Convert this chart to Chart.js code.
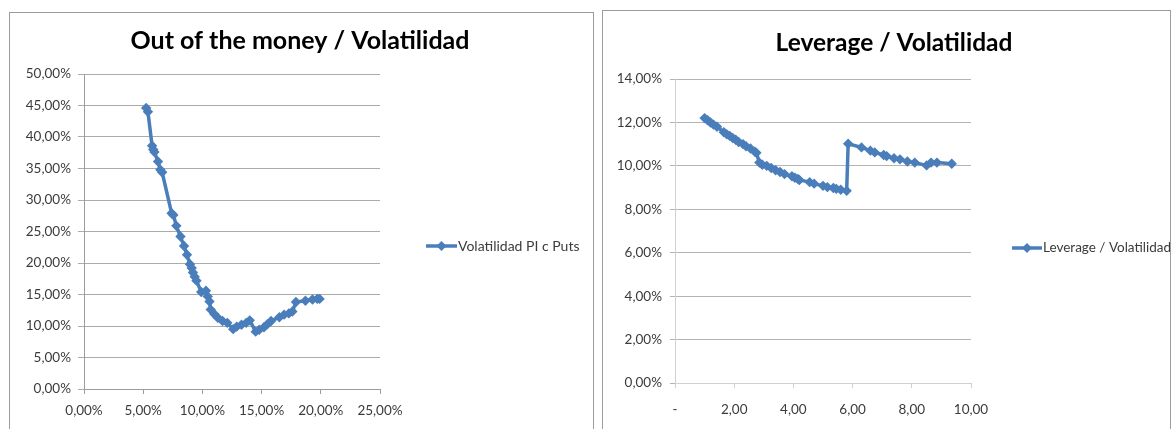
<!DOCTYPE html>
<html>
<head>
<meta charset="utf-8">
<title>Volatilidad</title>
<script src="https://cdn.jsdelivr.net/npm/chart.js@4.4.1/dist/chart.umd.min.js"></script>
<style>
  html, body { margin: 0; padding: 0; background: #fff; width: 1172px; height: 429px; overflow: hidden; }
  .frame { position: absolute; box-sizing: border-box; border: 1px solid #9c9c9c; background: #fff; }
  #frameA { left: 9px; top: 12px; width: 585px; height: 440px; }
  #frameB { left: 602px; top: 10px; width: 569px; height: 440px; }
  canvas { position: absolute; }
  #chartA { left: 9px; top: 12px; }
  #chartB { left: 602px; top: 10px; }
</style>
</head>
<body>
<div class="frame" id="frameA"></div>
<div class="frame" id="frameB"></div>
<canvas id="chartA" width="584" height="417"></canvas>
<canvas id="chartB" width="568" height="419"></canvas>
<script>
// Out-of-the-money (%) vs implied volatility (%) of the puts
const otmPct = [5.25, 5.4, 5.75, 5.85, 5.95, 6.25, 6.45, 6.6, 7.4, 7.55, 7.8, 8.15, 8.45, 8.7, 8.95, 9.1, 9.2, 9.35, 9.5, 9.9,
  10.3, 10.45, 10.6, 10.7, 11.0, 11.3, 11.7, 12.1, 12.6, 12.9, 13.3, 13.7, 14.0, 14.5, 14.8, 15.2, 15.5, 15.8,
  16.5, 16.9, 17.3, 17.6, 17.9, 18.7, 19.3, 19.7, 19.9];
const otmVol = [44.6, 44.0, 38.6, 38.0, 37.6, 36.1, 34.8, 34.4, 27.9, 27.6, 25.9, 24.2, 22.7, 21.3, 19.8, 19.2, 18.5, 17.8, 17.2, 15.4,
  15.6, 14.7, 13.9, 12.6, 11.9, 11.3, 10.8, 10.5, 9.5, 9.9, 10.2, 10.5, 10.9, 9.1, 9.4, 9.8, 10.3, 10.8,
  11.4, 11.8, 12.0, 12.3, 13.8, 14.0, 14.2, 14.3, 14.3];

// Leverage vs implied volatility (%)
const levRatio = [1.00, 1.10, 1.20, 1.30, 1.42, 1.65, 1.75, 1.85, 1.95, 2.05, 2.15, 2.30, 2.40, 2.55, 2.70, 2.75,
  2.85, 2.95, 3.10, 3.25, 3.40, 3.55, 3.70, 3.95, 4.05, 4.15, 4.20, 4.55, 4.70, 5.00, 5.15, 5.35, 5.45, 5.60, 5.80,
  5.85, 6.30, 6.60, 6.75, 7.05, 7.15, 7.40, 7.60, 7.85, 8.10, 8.50, 8.65, 8.85, 9.35];
const levVol = [12.20, 12.10, 12.00, 11.90, 11.80, 11.55, 11.45, 11.38, 11.28, 11.20, 11.10, 11.00, 10.90, 10.80, 10.65, 10.60,
  10.15, 10.05, 10.00, 9.90, 9.80, 9.72, 9.62, 9.52, 9.45, 9.40, 9.35, 9.25, 9.18, 9.08, 9.02, 8.98, 8.94, 8.90, 8.85,
  11.02, 10.85, 10.70, 10.62, 10.50, 10.45, 10.35, 10.30, 10.20, 10.15, 10.02, 10.15, 10.15, 10.10];

// Axis tick values
const otmXTicks = [0, 5, 10, 15, 20, 25];
const otmYTicks = [0, 5, 10, 15, 20, 25, 30, 35, 40, 45, 50];
const levXTicks = [0, 2, 4, 6, 8, 10];
const levYTicks = [0, 2, 4, 6, 8, 10, 12, 14];

const seriesA = 'Volatilidad PI c Puts';
const seriesB = 'Leverage / Volatilidad';
const titleA = 'Out of the money / Volatilidad';
const titleB = 'Leverage / Volatilidad';

const BLUE = '#4a7ebb';
const FONT = 'Lato, "Open Sans", sans-serif';
const TXT = '#3b3b3b';

const pct = v => v.toFixed(2).replace('.', ',') + '%';
const num = v => (v === 0 ? '-' : v.toFixed(2).replace('.', ','));

// Draws the chart title and an Excel-style legend (line with diamond marker)
const frameText = {
  id: 'frameText',
  afterDraw(chart, args, opts) {
    const ctx = chart.ctx;
    ctx.save();
    ctx.fillStyle = '#000';
    ctx.font = 'bold ' + opts.titleSize + 'px ' + FONT;
    ctx.textAlign = 'center';
    ctx.textBaseline = 'alphabetic';
    ctx.fillText(opts.title, opts.titleX, opts.titleY);

    const ds = chart.data.datasets[0];
    const lx = opts.legendX, ly = opts.legendY, lw = opts.legendLine;
    ctx.strokeStyle = ds.borderColor;
    ctx.lineWidth = 3.5;
    ctx.beginPath();
    ctx.moveTo(lx, ly);
    ctx.lineTo(lx + lw, ly);
    ctx.stroke();
    const cx = lx + lw / 2, r = 5;
    ctx.fillStyle = ds.borderColor;
    ctx.beginPath();
    ctx.moveTo(cx, ly - r);
    ctx.lineTo(cx + r, ly);
    ctx.lineTo(cx, ly + r);
    ctx.lineTo(cx - r, ly);
    ctx.closePath();
    ctx.fill();
    ctx.fillStyle = TXT;
    ctx.font = opts.legendSize + 'px ' + FONT;
    ctx.textAlign = 'left';
    ctx.textBaseline = 'middle';
    ctx.fillText(ds.label, lx + lw + 1, ly);
    ctx.restore();
  }
};

function makeChart(id, cfg) {
  const xs = cfg.x, ys = cfg.y;
  const points = xs.map((x, i) => ({ x: x, y: ys[i] }));
  return new Chart(document.getElementById(id), {
    type: 'scatter',
    data: {
      datasets: [{
        label: cfg.label,
        data: points,
        showLine: true,
        borderColor: BLUE,
        backgroundColor: BLUE,
        borderWidth: 3.5,
        tension: 0,
        pointStyle: 'rectRot',
        pointRadius: 5.2,
        pointBorderWidth: 0,
        pointBackgroundColor: BLUE,
        pointHoverRadius: 5.2
      }]
    },
    options: {
      responsive: false,
      animation: false,
      events: [],
      layout: { padding: cfg.padding },
      plugins: {
        legend: { display: false },
        title: { display: false },
        tooltip: { enabled: false },
        frameText: cfg.text
      },
      scales: {
        x: {
          type: 'linear',
          min: cfg.xTicks[0],
          max: cfg.xTicks[cfg.xTicks.length - 1],
          afterBuildTicks: s => { s.ticks = cfg.xTicks.map(v => ({ value: v })); },
          afterFit: s => { s.height = cfg.xAxisH; },
          grid: { drawOnChartArea: false, drawTicks: true, tickLength: cfg.xTickLen, color: cfg.axisColor },
          border: { display: true, color: cfg.axisColor, width: 1 },
          ticks: {
            callback: cfg.xFmt,
            maxRotation: 0,
            autoSkip: false,
            padding: cfg.xPad,
            color: TXT,
            font: { family: FONT, size: 13.5 }
          }
        },
        y: {
          type: 'linear',
          min: cfg.yTicks[0],
          max: cfg.yTicks[cfg.yTicks.length - 1],
          afterBuildTicks: s => { s.ticks = cfg.yTicks.map(v => ({ value: v })); },
          afterFit: s => { s.width = cfg.yAxisW; },
          grid: { drawOnChartArea: true, drawTicks: true, tickLength: cfg.yTickLen, color: cfg.gridColor },
          border: { display: true, color: cfg.axisColor, width: 1 },
          ticks: {
            callback: pct,
            autoSkip: false,
            padding: cfg.yPad,
            color: TXT,
            font: { family: FONT, size: 13.5 }
          }
        }
      }
    },
    plugins: [frameText]
  });
}

function draw() {
  makeChart('chartA', {
    x: otmPct, y: otmVol, label: seriesA,
    xTicks: otmXTicks, yTicks: otmYTicks, xFmt: pct,
    padding: { left: 0, top: 62, right: 213, bottom: 0 },
    yAxisW: 75, xAxisH: 40, xTickLen: 5, yTickLen: 6, xPad: 9, yPad: 7,
    gridColor: '#ababab', axisColor: '#9c9c9c',
    text: { title: titleA, titleSize: 25, titleX: 291, titleY: 37,
            legendX: 417, legendY: 234, legendLine: 31, legendSize: 14 }
  });
  makeChart('chartB', {
    x: levRatio, y: levVol, label: seriesB,
    xTicks: levXTicks, yTicks: levYTicks, xFmt: num,
    padding: { left: 0, top: 69, right: 199, bottom: 0 },
    yAxisW: 73, xAxisH: 46, xTickLen: 5, yTickLen: 5, xPad: 14, yPad: 8,
    gridColor: '#b4b4b4', axisColor: '#d0d0d0',
    text: { title: titleB, titleSize: 24.5, titleX: 292, titleY: 41,
            legendX: 410, legendY: 238, legendLine: 30, legendSize: 13.5 }
  });
}

if (document.fonts && document.fonts.load) {
  Promise.all([document.fonts.load('13px Lato'), document.fonts.load('bold 25px Lato')])
    .then(draw, draw);
} else {
  draw();
}
</script>
</body>
</html>
